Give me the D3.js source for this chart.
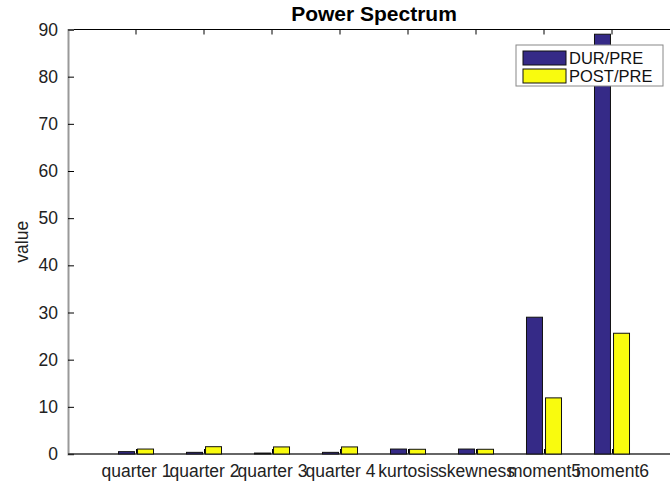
<!DOCTYPE html>
<html>
<head>
<meta charset="utf-8">
<script src="https://cdn.jsdelivr.net/npm/d3@7/dist/d3.min.js"></script>
<style>
  body { margin: 0; background: #fff; }
  svg { display: block; font-family: "Liberation Sans", Arial, sans-serif; }
</style>
</head>
<body>
<svg id="chart" width="670" height="482"></svg>
<script>
var categories = ["quarter 1", "quarter 2", "quarter 3", "quarter 4", "kurtosis", "skewness", "moment5", "moment6"];
var seriesNames = ["DUR/PRE", "POST/PRE"];
var durPre = [0.5, 0.35, 0.2, 0.35, 1.05, 1.05, 29.0, 89.0];
var postPre = [1.05, 1.55, 1.5, 1.5, 1.0, 1.0, 11.9, 25.6];
var yTicks = [0, 10, 20, 30, 40, 50, 60, 70, 80, 90];
var colors = ["#352a87", "#f9fb0e"];

(function() {
var svg = d3.select("#chart");
var pLeft = 68, pRight = 680, pTop = 29.5, pBottom = 454;
var fs = 17.5;

var x = d3.scaleLinear().domain([0, 9]).range([pLeft, pRight]);
var y = d3.scaleLinear().domain([0, 90]).range([pBottom, pTop]);

// top border with ticks pointing down
svg.append("line").attr("x1", pLeft).attr("x2", 670).attr("y1", pTop).attr("y2", pTop)
  .attr("stroke", "#000").attr("stroke-width", 1);
svg.selectAll(".ttick").data(categories).enter().append("line")
  .attr("x1", function(d, i) { return x(i + 1); })
  .attr("x2", function(d, i) { return x(i + 1); })
  .attr("y1", pTop).attr("y2", pTop + 5)
  .attr("stroke", "#000");

// y axis
var yAxis = d3.axisLeft(y).tickValues(yTicks).tickSize(-6).tickPadding(10);
var gy = svg.append("g").attr("transform", "translate(" + pLeft + ",0)").call(yAxis);
gy.select(".domain").attr("stroke", "#999").attr("stroke-width", 2);
gy.selectAll(".tick line").attr("stroke", "#000");
gy.selectAll(".tick text").attr("font-size", fs).attr("fill", "#222")
  .attr("font-family", "Liberation Sans, Arial, sans-serif");

// x axis
var xAxis = d3.axisBottom(x).tickValues(d3.range(1, 9))
  .tickFormat(function(d) { return categories[d - 1]; })
  .tickSize(-5).tickPadding(11);
var gx = svg.append("g").attr("transform", "translate(0," + pBottom + ")").call(xAxis);
gx.select(".domain").remove();
gx.selectAll(".tick line").attr("stroke", "#000");
gx.selectAll(".tick text").attr("font-size", fs).attr("fill", "#222")
  .attr("font-family", "Liberation Sans, Arial, sans-serif");
svg.append("line").attr("x1", pLeft).attr("x2", 670).attr("y1", pBottom).attr("y2", pBottom)
  .attr("stroke", "#333").attr("stroke-width", 1.5);

// bars
var bw = 0.235, off = 0.14;
var series = [durPre, postPre];
series.forEach(function(vals, s) {
  svg.append("g").selectAll("rect").data(vals).enter().append("rect")
    .attr("x", function(d, i) { return x(i + 1 + (s === 0 ? -off : off) - bw / 2); })
    .attr("width", x(bw) - x(0))
    .attr("y", function(d) { return y(d); })
    .attr("height", function(d) { return y(0) - y(d); })
    .attr("fill", colors[s])
    .attr("stroke", "#111").attr("stroke-width", 1);
});

// title and y label
svg.append("text").attr("x", (pLeft + pRight) / 2).attr("y", 21)
  .attr("text-anchor", "middle").attr("font-weight", "bold").attr("font-size", 21)
  .text("Power Spectrum");
svg.append("text").attr("transform", "translate(28," + ((pTop + pBottom) / 2) + ") rotate(-90)")
  .attr("text-anchor", "middle").attr("font-size", fs).attr("fill", "#222")
  .text("value");

// legend
var lg = svg.append("g").attr("transform", "translate(516,45)");
lg.append("rect").attr("width", 147).attr("height", 41)
  .attr("fill", "#fff").attr("stroke", "#888").attr("stroke-width", 1);
seriesNames.forEach(function(name, s) {
  lg.append("rect").attr("x", 7).attr("y", 6 + s * 18).attr("width", 43).attr("height", 14)
    .attr("fill", colors[s]).attr("stroke", "#111");
  lg.append("text").attr("x", 53).attr("y", 18.5 + s * 18).attr("font-size", 16.5).attr("fill", "#111")
    .text(name);
});
})();
</script>
</body>
</html>
